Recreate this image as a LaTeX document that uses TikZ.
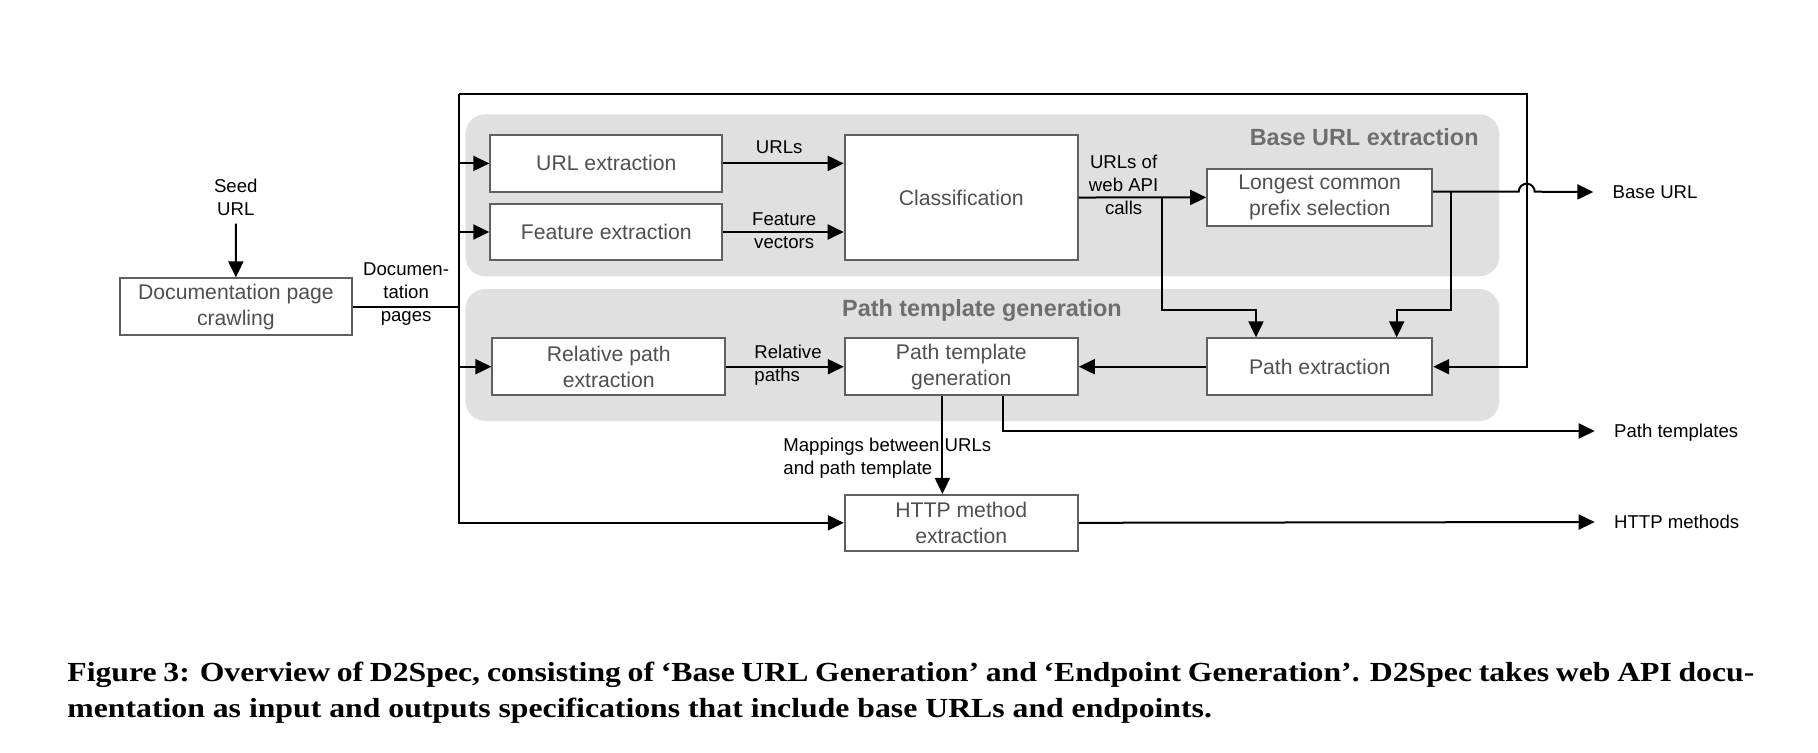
\documentclass[tikz,border=0pt]{standalone}
\usepackage{fontspec}
\setmainfont{Liberation Sans}
\newfontfamily\capfont[FakeStretch=1.15]{Liberation Serif}
\usetikzlibrary{arrows.meta,calc}
\definecolor{boxtext}{HTML}{505050}
\definecolor{boxline}{HTML}{606060}
\definecolor{groupfill}{HTML}{E0E0E0}
\definecolor{titlegray}{HTML}{6E6E6E}
\tikzset{
  proc/.style={draw=boxline, line width=1pt, fill=white, text=boxtext,
    font=\fontsize{10.6pt}{12.85pt}\selectfont, align=center, inner sep=0pt,
    minimum height=28.35pt},
  lbl/.style={font=\fontsize{9.3pt}{11.4pt}\selectfont, align=center, inner sep=0pt},
  outlbl/.style={lbl, anchor=west, inner xsep=9.5pt, text depth=0pt},
  conn/.style={line width=1pt, -{Triangle[length=8pt,width=7.5pt]}},
  plainline/.style={line width=1pt},
  grouptitle/.style={font=\bfseries\fontsize{11.7pt}{14pt}\selectfont, text=titlegray, inner sep=0pt},
  capstyle/.style={anchor=base west, inner sep=0pt, font=\capfont\bfseries\fontsize{13.8pt}{17.75pt}\selectfont}
}
\begin{document}
\begin{tikzpicture}[x=0.5pt,y=-0.5pt]
\useasboundingbox (0,0) rectangle (1818,752);
\fill[white] (0,0) rectangle (1818,752);

% group backgrounds
\fill[groupfill, rounded corners=10pt] (465.4,114.3) rectangle (1499.3,276.3);
\fill[groupfill, rounded corners=10pt] (465.4,289) rectangle (1499.3,421);
\node[grouptitle, anchor=east] (t1) at (1479,137.3) {Base URL extraction};
\node[grouptitle] (t2) at (982,310) {Path template generation};

% process boxes
\node[proc, minimum width=116pt] (crawl) at (235.9,306.7) {Documentation page\\crawling};
\node[proc, minimum width=116pt] (urlx) at (606.3,163.4) {URL extraction};
\node[proc, minimum width=116pt, minimum height=28pt] (featx) at (606.3,232) {Feature extraction};
\node[proc, minimum width=116.5pt, minimum height=62.5pt] (class) at (961.2,197.5) {Classification};
\node[proc, minimum width=112.5pt] (lcp) at (1319.7,197.4) {Longest common\\prefix selection};
\node[proc, minimum width=116.3pt] (relx) at (608.7,366.7) {Relative path\\extraction};
\node[proc, minimum width=116.5pt] (ptg) at (961.3,366.7) {Path template\\generation};
\node[proc, minimum width=112.5pt] (pathx) at (1319.7,366.7) {Path extraction};
\node[proc, minimum width=116.5pt, minimum height=27.85pt] (http) at (961.3,522.8) {HTTP method\\extraction};

% labels
\node[lbl] (seed) at (235.8,197) {Seed\\URL};
\node[lbl] (ldoc) at (406.1,294.1) {Documen-\\tation\\pages};
\node[lbl] (lurls) at (779.2,146.7) {URLs};
\node[lbl] (lfeat) at (784.2,230.8) {Feature\\vectors};
\node[lbl] (lweb) at (1123.6,184.6) {URLs of\\web API\\calls};
\node[lbl, anchor=west, align=left] (lrel) at (754,365.3) {Relative\\paths};
\node[lbl, anchor=west, align=left] (lmap) at (783,458.3) {Mappings between URLs\\and path template};

% outputs
\node[outlbl] (obase) at (1593.3,192) {Base URL};
\node[outlbl] (opt) at (1594.7,431) {Path templates};
\node[outlbl] (ohttp) at (1594.7,522) {HTTP methods};

% frame and helper coordinates
\coordinate (ftl) at (458.6,94.3);
\coordinate (ftr) at (1526.7,94.3);
\coordinate (b1) at (1162.3,197.5);
\coordinate (k1) at (1256,310);
\coordinate (b2) at (1451,191.7);
\coordinate (k2) at (1396.7,310);
\coordinate (hopa) at (1518.7,191.7);

% connectors
\draw[conn, shorten <=4pt] (seed) -- (crawl);
\draw[plainline] (crawl.east) -- (ftl |- crawl.east);
\draw[conn] (ftl) -- (ftl |- http.west) -- (http.west);
\draw[conn] (ftl) -- (ftr) -- (ftr |- pathx.east) -- (pathx.east);
\draw[conn] (ftl |- urlx.west) -- (urlx.west);
\draw[conn] (ftl |- featx.west) -- (featx.west);
\draw[conn] (ftl |- relx.west) -- (relx.west);
\draw[conn] (urlx.east) -- (urlx.east -| class.west);
\draw[conn] (featx.east) -- (featx.east -| class.west);
\draw[conn] (class.east) -- (lcp.west);
\draw[conn] (b1) |- (k1) -- (k1 |- pathx.north);
\draw[conn] ($(lcp.east)+(0,-5.7)$) -- (hopa) arc[start angle=180,end angle=0,radius=4pt] -- (obase.west);
\draw[conn] (b2) |- (k2) -- (k2 |- pathx.north);
\draw[conn] (pathx.west) -- (ptg.east);
\draw[conn] (relx.east) -- (ptg.west);
\draw[conn] ($(ptg.south)+(-18.9,0)$) -- ($(http.north)+(-18.9,0)$);
\draw[conn] ($(ptg.south)+(41.4,0)$) |- (opt.west);
\draw[conn] (http.east) -- (ohttp.west);

% caption
\node[capstyle] (cap1) at (67,681) {\makebox[843.5pt][s]{Figure 3: Overview of D2Spec, consisting of ‘Base URL Generation’ and ‘Endpoint Generation’. D2Spec takes web API docu-}};
\node[capstyle] (cap2) at (67,717) {mentation as input and outputs specifications that include base URLs and endpoints.};
\end{tikzpicture}
\end{document}
